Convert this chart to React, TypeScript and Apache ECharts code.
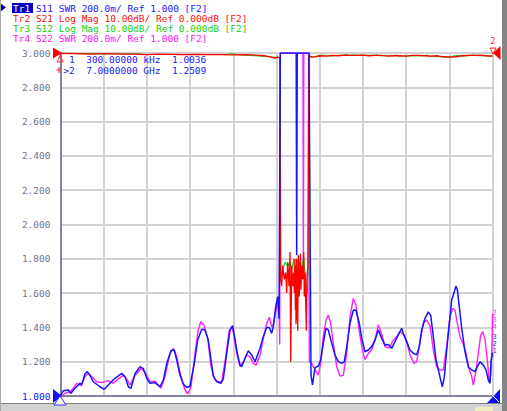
import React, { useEffect, useRef } from "react";
import * as echarts from "echarts";

// ---- Data (frequency in GHz) ----
const s11Freq = [
  0.0003, 0.045, 0.126, 0.165, 0.235, 0.316, 0.344, 0.397, 0.434, 0.478,
  0.531, 0.64, 0.71, 0.775, 0.883, 0.992, 1.045, 1.099, 1.142, 1.207,
  1.288, 1.342, 1.397, 1.45, 1.531, 1.612, 1.666, 1.721, 1.791, 1.844,
  1.883, 1.936, 1.99, 2.045, 2.098, 2.168, 2.223, 2.288, 2.341, 2.395,
  2.439, 2.476, 2.531, 2.601, 2.638, 2.693, 2.747, 2.79, 2.828, 2.865,
  2.909, 2.936, 2.99, 3.043, 3.098, 3.152, 3.233, 3.286, 3.341, 3.383,
  3.422, 3.448, 3.487, 3.52, 3.541, 3.562, 3.819, 3.827, 3.836, 4.027,
  4.059, 4.083, 4.124, 4.177, 4.216, 4.258, 4.302, 4.339, 4.395, 4.448,
  4.502, 4.557, 4.599, 4.638, 4.691, 4.745, 4.788, 4.842, 4.881, 4.934,
  4.988, 5.043, 5.096, 5.15, 5.205, 5.258, 5.312, 5.367, 5.42, 5.474,
  5.529, 5.555, 5.61, 5.663, 5.717, 5.772, 5.814, 5.853, 5.906, 5.96,
  5.999, 6.041, 6.085, 6.122, 6.161, 6.187, 6.219, 6.258, 6.295, 6.339,
  6.381, 6.409, 6.43, 6.462, 6.501, 6.555, 6.608, 6.663, 6.717, 6.754,
  6.798, 6.851, 6.895, 6.932, 6.96, 6.976, 7.0,
];
const s11Swr = [
  1.0036, 1.03, 1.035, 1.015, 1.045, 1.074, 1.065, 1.13, 1.142, 1.12,
  1.083, 1.054, 1.039, 1.064, 1.103, 1.132, 1.113, 1.054, 1.045, 1.13,
  1.171, 1.16, 1.103, 1.074, 1.078, 1.054, 1.093, 1.19, 1.264, 1.268,
  1.21, 1.122, 1.07, 1.05, 1.057, 1.19, 1.327, 1.389, 1.385, 1.327,
  1.21, 1.117, 1.083, 1.074, 1.1, 1.249, 1.385, 1.41, 1.33, 1.249,
  1.18, 1.171, 1.22, 1.264, 1.239, 1.2, 1.278, 1.346, 1.4, 1.4,
  1.365, 1.404, 1.52, 1.579, 1.45, 3.0, 3.0, 1.82, 3.0, 3.0,
  1.12, 1.065, 1.165, 1.175, 1.21, 1.307, 1.395, 1.385, 1.307, 1.239,
  1.2, 1.19, 1.2, 1.288, 1.424, 1.501, 1.5, 1.424, 1.336, 1.258,
  1.268, 1.288, 1.327, 1.385, 1.336, 1.297, 1.3, 1.278, 1.317, 1.356,
  1.395, 1.365, 1.317, 1.268, 1.249, 1.24, 1.288, 1.385, 1.453, 1.491,
  1.47, 1.346, 1.21, 1.152, 1.093, 1.054, 1.11, 1.268, 1.404, 1.56,
  1.608, 1.641, 1.62, 1.52, 1.395, 1.258, 1.171, 1.152, 1.142, 1.17,
  1.2, 1.18, 1.152, 1.093, 1.074, 1.2, 1.2509,
];

const s22Freq = [
  0.0003, 0.084, 0.154, 0.207, 0.262, 0.332, 0.397, 0.45, 0.506, 0.587,
  0.668, 0.775, 0.856, 0.937, 1.018, 1.073, 1.126, 1.207, 1.304, 1.369,
  1.45, 1.531, 1.628, 1.693, 1.774, 1.828, 1.883, 1.953, 2.017, 2.061,
  2.115, 2.179, 2.233, 2.272, 2.325, 2.385, 2.439, 2.492, 2.557, 2.612,
  2.677, 2.73, 2.774, 2.8, 2.855, 2.909, 2.962, 3.017, 3.071, 3.124,
  3.168, 3.233, 3.286, 3.341, 3.383, 3.422, 3.448, 3.503, 3.541, 3.552,
  3.562, 3.929, 3.936, 3.942, 4.019, 4.032, 4.07, 4.124, 4.177, 4.216,
  4.258, 4.302, 4.339, 4.378, 4.42, 4.476, 4.529, 4.582, 4.638, 4.691,
  4.745, 4.788, 4.842, 4.897, 4.934, 4.988, 5.043, 5.096, 5.15, 5.205,
  5.258, 5.328, 5.393, 5.448, 5.501, 5.555, 5.61, 5.663, 5.728, 5.772,
  5.825, 5.879, 5.934, 5.987, 6.041, 6.096, 6.149, 6.203, 6.258, 6.311,
  6.355, 6.392, 6.43, 6.473, 6.527, 6.571, 6.608, 6.663, 6.689, 6.728,
  6.77, 6.809, 6.841, 6.879, 6.916, 6.948, 6.971, 6.992, 7.0,
];
const s22Swr = [
  1.0, 1.016, 1.025, 1.045, 1.074, 1.06, 1.113, 1.132, 1.113, 1.083,
  1.078, 1.09, 1.074, 1.1, 1.12, 1.1, 1.064, 1.12, 1.16, 1.14,
  1.083, 1.086, 1.045, 1.113, 1.249, 1.278, 1.23, 1.113, 1.035, 1.012,
  1.054, 1.249, 1.385, 1.433, 1.414, 1.336, 1.171, 1.1, 1.083, 1.083,
  1.23, 1.375, 1.404, 1.37, 1.249, 1.171, 1.2, 1.239, 1.23, 1.19,
  1.18, 1.239, 1.336, 1.424, 1.459, 1.404, 1.414, 1.52, 1.58, 1.3,
  3.0, 3.0, 1.7, 3.0, 3.0, 1.2, 1.19, 1.152, 1.122, 1.19,
  1.346, 1.443, 1.472, 1.424, 1.307, 1.171, 1.117, 1.12, 1.249, 1.462,
  1.569, 1.53, 1.375, 1.258, 1.213, 1.249, 1.27, 1.327, 1.414, 1.36,
  1.288, 1.28, 1.327, 1.345, 1.375, 1.36, 1.317, 1.239, 1.19, 1.2,
  1.317, 1.424, 1.443, 1.41, 1.268, 1.171, 1.152, 1.152, 1.29, 1.462,
  1.511, 1.5, 1.424, 1.346, 1.3, 1.249, 1.171, 1.113, 1.064, 1.14,
  1.249, 1.356, 1.375, 1.33, 1.21, 1.083, 1.12, 1.3, 1.48,
];

const s21Freq = [
  0.0003, 0.25, 0.5, 0.75, 1.0, 1.2, 1.4, 1.6, 1.8, 2.0,
  2.2, 2.4, 2.6, 2.8, 3.0, 3.15, 3.3, 3.4, 3.47, 3.52,
  3.555, 3.565, 3.584, 3.6, 3.626, 3.649, 3.665, 3.681, 3.703, 3.719,
  3.73, 3.746, 3.763, 3.779, 3.789, 3.8, 3.806, 3.811, 3.816, 3.827,
  3.834, 3.839, 3.844, 3.853, 3.87, 3.886, 3.897, 3.908, 3.925, 3.941,
  3.95, 3.962, 3.973, 3.983, 3.994, 4.01, 4.022, 4.035, 4.06, 4.12,
  4.2, 4.3, 4.4, 4.5, 4.6, 4.7, 4.8, 4.9, 5.0, 5.1,
  5.2, 5.3, 5.4, 5.5, 5.6, 5.7, 5.8, 5.9, 6.0, 6.1,
  6.2, 6.3, 6.4, 6.5, 6.6, 6.7, 6.8, 6.9, 7.0,
];
const s21Db = [
  -0.1, -0.2, -0.3, -0.2, -0.35, -0.3, -0.45, -0.35, -0.4, -0.5,
  -0.4, -0.5, -0.45, -0.55, -0.5, -0.6, -0.8, -1.1, -1.5, -1.2,
  -1.4, -66, -68, -62, -66, -64, -70, -61, -68, -58,
  -90, -62, -68, -64, -70, -60, -75, -62, -79, -60,
  -78, -63, -81, -59, -71, -58.5, -69, -62, -66, -58,
  -71, -64, -73, -81, -65, -62, -2, -0.6, -1.2, -1.1,
  -0.8, -0.9, -0.7, -0.8, -0.6, -0.7, -0.7, -0.6, -0.8, -0.7,
  -0.7, -0.9, -0.8, -0.8, -0.9, -0.7, -0.7, -0.8, -0.9, -0.8,
  -1.1, -1.2, -1.1, -0.8, -0.7, -0.7, -0.6, -0.8, -0.9,
];

const s12Freq = [
  0.0003, 1.15, 1.2, 1.26, 1.32, 2.7, 2.76, 2.82, 2.9, 3.56,
  3.57, 3.6, 3.64, 3.68, 3.72, 3.75, 3.78, 3.8, 3.83, 3.86,
  3.89, 3.91, 3.94, 3.97, 4.0, 4.01, 4.02, 4.1, 4.26, 4.32,
  4.6, 4.64, 4.68, 4.75, 4.8, 5.1, 5.12, 5.16, 5.4, 5.43,
  5.47, 5.9, 5.93, 5.96, 6.3, 6.38, 6.45, 6.5, 6.66, 6.68,
  6.72, 7.0,
];
const s12Db = [
  -0.1, -0.3, -0.15, -0.2, -0.35, -0.45, -0.25, -0.3, -0.5, -1.3,
  -66, -63, -61, -62, -61, -63, -60, -68, -61, -60.5,
  -63, -62, -60, -66, -70, -64, -1, -1.1, -0.6, -0.9,
  -0.6, -0.45, -0.75, -0.55, -0.7, -0.7, -0.5, -0.8, -0.8, -0.55,
  -0.9, -0.8, -0.6, -0.9, -1.2, -0.8, -0.75, -0.9, -0.7, -0.5,
  -0.75, -0.9,
];

const headerLines = [
  "Tr1 S11 SWR 200.0m/ Ref 1.000 [F2]",
  "Tr2 S21 Log Mag 10.00dB/ Ref 0.000dB [F2]",
  "Tr3 S12 Log Mag 10.00dB/ Ref 0.000dB [F2]",
  "Tr4 S22 SWR 200.0m/ Ref 1.000 [F2]",
];
const headerColors = ["#1a1aff", "#ff1010", "#10d010", "#ff10ff"];
const markerLines = ["1  300.00000 kHz  1.0036", ">2  7.0000000 GHz  1.2509"];

const pairs = (xs: number[], ys: number[]) => xs.map((x, i) => [x, ys[i]]);

export default function App() {
  const ref = useRef<HTMLDivElement>(null);
  useEffect(() => {
    const chart = echarts.init(ref.current!, null, { renderer: "svg" });
    const mono = '"DejaVu Sans Mono", monospace';
    const font = `9.5px ${mono}`;
    const gridLine = { show: true, lineStyle: { color: "#d2d2d2", width: 2 } };
    const lineSeries = (name: string, data: number[][], color: string, width: number, yAxisIndex: number) => ({
      name,
      type: "line",
      data,
      yAxisIndex,
      showSymbol: false,
      symbol: "none",
      silent: true,
      clip: true,
      lineStyle: { color, width },
      itemStyle: { color },
    });

    const graphics: any[] = [];
    // header
    graphics.push({ type: "polygon", shape: { points: [[0, 3], [6, 7.5], [0, 12]] }, style: { fill: "#0000a0" }, z: 100 });
    graphics.push({ type: "rect", shape: { x: 12, y: 3, width: 21, height: 10 }, style: { fill: "#0000c8" }, z: 100 });
    graphics.push({ type: "text", x: 13, y: 8, style: { text: "Tr1", fill: "#ffffff", font, verticalAlign: "middle" }, z: 101 });
    graphics.push({ type: "text", x: 13 + 4 * 5.72, y: 8, style: { text: headerLines[0].slice(4), fill: headerColors[0], font, verticalAlign: "middle" }, z: 101 });
    for (let i = 1; i < headerLines.length; i++) {
      graphics.push({ type: "text", x: 13, y: 8 + i * 10, style: { text: headerLines[i], fill: headerColors[i], font, verticalAlign: "middle" }, z: 101 });
    }
    // marker table
    graphics.push({ type: "text", x: 69, y: 59.5, style: { text: markerLines[0], fill: "#1a1aff", font, verticalAlign: "middle" }, z: 101 });
    graphics.push({ type: "text", x: 63.3, y: 70, style: { text: markerLines[1], fill: "#1a1aff", font, verticalAlign: "middle" }, z: 101 });
    // red marker symbols near table
    graphics.push({ type: "polygon", shape: { points: [[60, 56], [63, 62], [57, 62]] }, style: { fill: "none", stroke: "#ff2020", lineWidth: 1 }, z: 101 });
    graphics.push({ type: "line", shape: { x1: 60, y1: 53, x2: 60, y2: 58 }, style: { stroke: "#ff2020", lineWidth: 1 }, z: 101 });
    graphics.push({ type: "line", shape: { x1: 56.5, y1: 70, x2: 61.5, y2: 70 }, style: { stroke: "#ff2020", lineWidth: 1 }, z: 101 });
    graphics.push({ type: "line", shape: { x1: 59, y1: 67, x2: 59, y2: 73 }, style: { stroke: "#ff2020", lineWidth: 1 }, z: 101 });
    // reference triangles
    graphics.push({ type: "polygon", shape: { points: [[53, 47.5], [62, 53], [53, 58.5]] }, style: { fill: "#ff0000" }, z: 101 });
    graphics.push({ type: "polygon", shape: { points: [[53, 389], [62, 396], [53, 403]] }, style: { fill: "#1010ff" }, z: 101 });
    graphics.push({ type: "polygon", shape: { points: [[60, 396], [66, 405], [54, 405]] }, style: { fill: "#ffffff", stroke: "#3030ff", lineWidth: 1 }, z: 102 });
    graphics.push({ type: "polygon", shape: { points: [[487, 403], [500, 389], [500, 403]] }, style: { fill: "#1010ff" }, z: 101 });
    graphics.push({ type: "line", shape: { x1: 492, y1: 395, x2: 499, y2: 402 }, style: { stroke: "#ffffff", lineWidth: 1 }, z: 102 });
    graphics.push({ type: "polygon", shape: { points: [[500.5, 46], [493, 53], [500.5, 60]] }, style: { fill: "#ff0000" }, z: 101 });
    graphics.push({ type: "text", x: 493, y: 41.5, style: { text: "2", fill: "#ff1010", font: `8px ${mono}`, align: "center", verticalAlign: "middle" }, z: 101 });
    graphics.push({ type: "polygon", shape: { points: [[490, 48], [496, 48], [493, 54]] }, style: { fill: "none", stroke: "#ff2020", lineWidth: 1 }, z: 101 });
    // small trace marker labels on the right end
    const smallFont = `7px ${mono}`;
    [["2", 313], ["3", 320], ["4", 327]].forEach(([t, y]) =>
      graphics.push({ type: "text", x: 494.5, y: y as number, style: { text: t as string, fill: "#ff30ff", font: smallFont, align: "center", verticalAlign: "middle" }, z: 101 })
    );
    [["3", 337], ["2", 344], ["1", 351]].forEach(([t, y]) =>
      graphics.push({ type: "text", x: 494.5, y: y as number, style: { text: t as string, fill: "#3030ff", font: smallFont, align: "center", verticalAlign: "middle" }, z: 101 })
    );
    // window frame
    graphics.push({ type: "rect", shape: { x: 0, y: 0, width: 1, height: 411 }, style: { fill: "#a8a8a8" }, z: 100 });
    graphics.push({ type: "rect", shape: { x: 502, y: 0, width: 5, height: 411 }, style: { fill: "#858585" }, z: 100 });
    graphics.push({ type: "rect", shape: { x: 0, y: 403, width: 502, height: 8 }, style: { fill: "#d2d2d2" }, z: 99 });
    graphics.push({ type: "rect", shape: { x: 0, y: 403, width: 502, height: 1 }, style: { fill: "#808080" }, z: 99 });
    graphics.push({ type: "rect", shape: { x: 475, y: 407, width: 18, height: 4 }, style: { fill: "#eeeec0" }, z: 99 });

    const option: any = {
      animation: false,
      backgroundColor: "#ffffff",
      grid: { left: 60.5, top: 53, width: 432, height: 343, show: true, borderColor: "#a8a8bc", borderWidth: 1 },
      xAxis: {
        type: "value",
        min: 0,
        max: 7,
        interval: 0.7,
        axisLabel: { show: false },
        axisTick: { show: false },
        axisLine: { show: true, onZero: false, lineStyle: { color: "#6a6a92", width: 1.5 } },
        splitLine: gridLine,
      },
      yAxis: [
        {
          type: "value",
          min: 1,
          max: 3,
          interval: 0.2,
          axisLabel: {
            formatter: (v: any) => Number(v).toFixed(3),
            color: (v: any) => (Math.abs(Number(v) - 1) < 1e-6 ? "#1010ff" : "#72728a"),
            fontFamily: mono,
            fontSize: 9.5,
            margin: 10,
          },
          axisTick: { show: false },
          axisLine: { show: true, lineStyle: { color: "#6a6a92", width: 1.5 } },
          splitLine: gridLine,
        },
        { type: "value", min: -100, max: 0, show: false, splitLine: { show: false } },
      ],
      series: [
        lineSeries("S22", pairs(s22Freq, s22Swr), "#ff20ff", 1.4, 0),
        lineSeries("S12", pairs(s12Freq, s12Db), "#10d010", 1.1, 1),
        lineSeries("S21", pairs(s21Freq, s21Db), "#ff0000", 1.3, 1),
        lineSeries("S11", pairs(s11Freq, s11Swr), "#1414ff", 1.5, 0),
      ],
      graphic: graphics,
    };
    chart.setOption(option);
    return () => chart.dispose();
  }, []);
  return (
    <div
      ref={ref}
      style={{ position: "absolute", left: 0, top: 0, width: 507, height: 411, background: "#ffffff" }}
    />
  );
}
